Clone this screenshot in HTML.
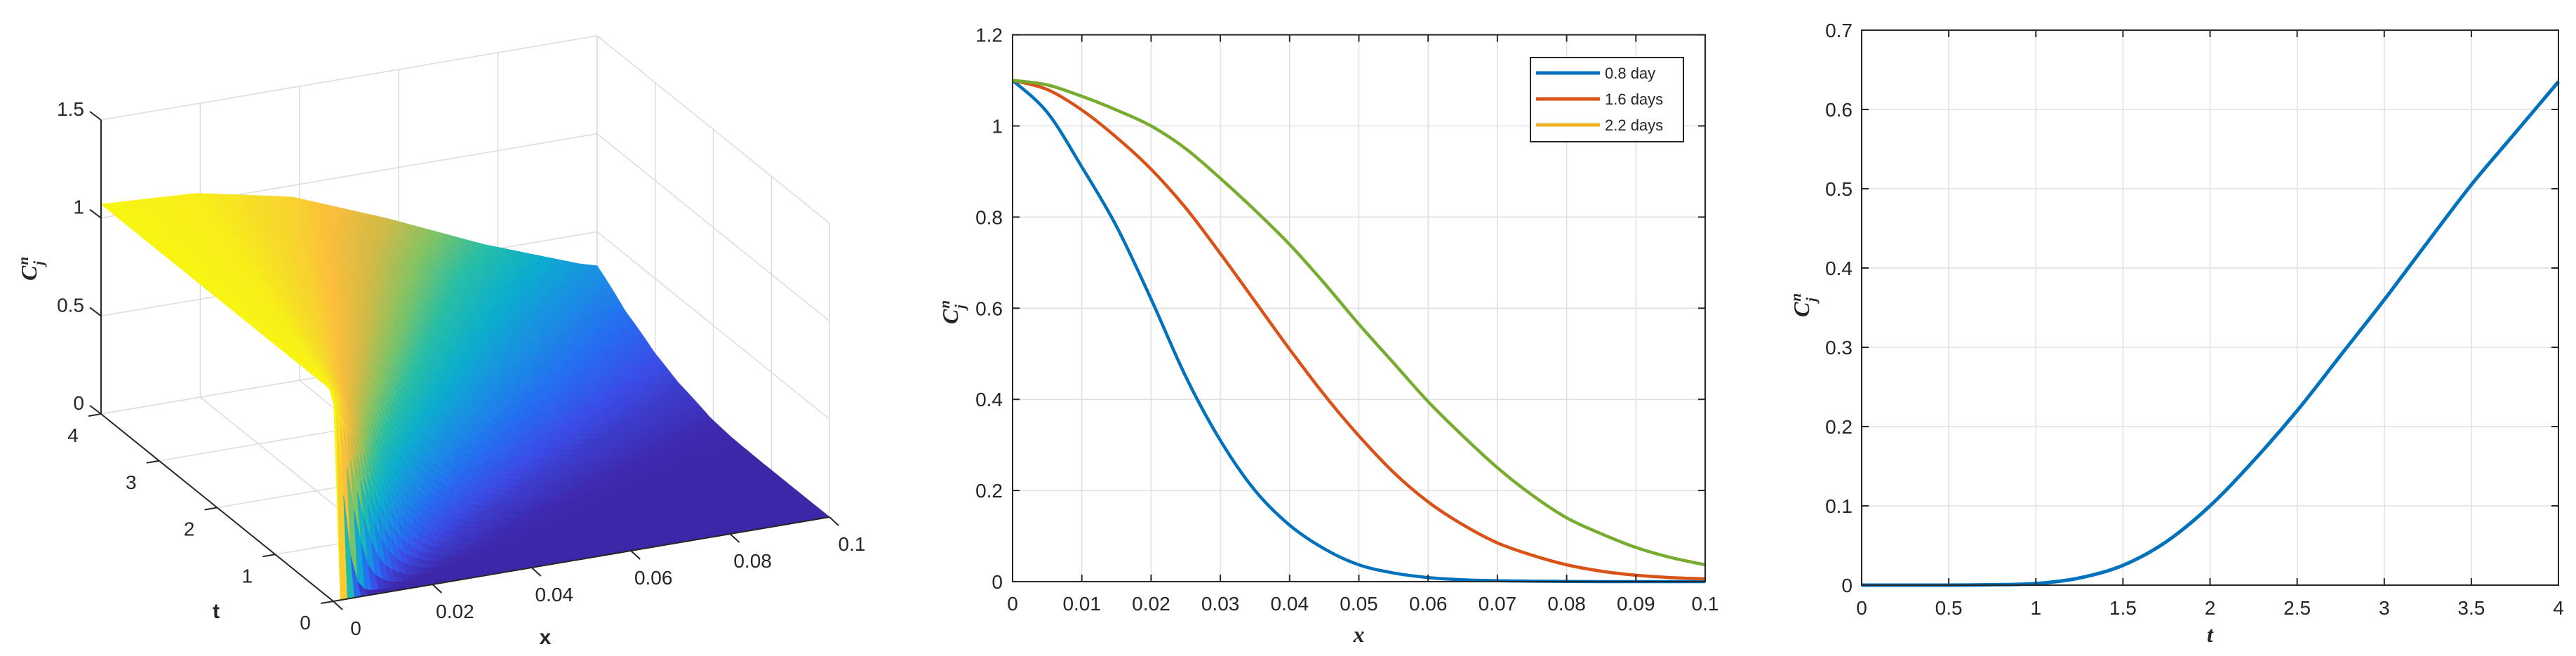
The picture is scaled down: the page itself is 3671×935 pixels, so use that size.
<!DOCTYPE html>
<html><head><meta charset="utf-8"><style>
html,body{margin:0;padding:0;background:#fff;}
svg{display:block;}
text{font-family:"Liberation Sans",sans-serif;fill:#262626;}
.tk{font-size:28px;}
.lab{font-family:"Liberation Serif",serif;font-style:italic;font-weight:bold;}
</style></head><body>
<svg id="fig" width="3671" height="935" viewBox="0 0 3671 935" xmlns="http://www.w3.org/2000/svg">
<g id="p3d"></g>
<g id="pmid"></g>
<g id="pright"></g>
</svg>
<script>
// ---------- data: middle plot (C vs x) ----------
const xProfile = [0,0.005,0.01,0.015,0.02,0.025,0.03,0.035,0.04,0.045,0.05,0.055,0.06,0.065,0.07,0.075,0.08,0.085,0.09,0.095,0.1];
const series08 = [1.1,1.03,0.91,0.78,0.62,0.45,0.31,0.20,0.124,0.072,0.037,0.019,0.009,0.004,0.002,0.001,0.0005,0,0,0,0];
const series16 = [1.1,1.08,1.035,0.975,0.905,0.82,0.72,0.615,0.51,0.41,0.32,0.24,0.175,0.125,0.085,0.058,0.037,0.023,0.014,0.009,0.006];
const series22 = [1.1,1.09,1.065,1.035,1.0,0.95,0.885,0.815,0.74,0.655,0.565,0.48,0.395,0.32,0.25,0.19,0.14,0.105,0.075,0.053,0.037];
const legendLabels = ["0.8 day","1.6 days","2.2 days"];
const midXTicks = [0,0.01,0.02,0.03,0.04,0.05,0.06,0.07,0.08,0.09,0.1];
const midXTickLabels = ["0","0.01","0.02","0.03","0.04","0.05","0.06","0.07","0.08","0.09","0.1"];
const midYTicks = [0,0.2,0.4,0.6,0.8,1,1.2];
const midYTickLabels = ["0","0.2","0.4","0.6","0.8","1","1.2"];
// ---------- data: right plot (C vs t) ----------
const tSeries = [0,0.25,0.5,0.75,1,1.25,1.5,1.75,2,2.25,2.5,2.75,3,3.25,3.5,3.75,4];
const cSeries = [0,0,0,0.0005,0.002,0.009,0.025,0.055,0.1,0.157,0.22,0.29,0.36,0.433,0.505,0.57,0.635];
const rXTicks = [0,0.5,1,1.5,2,2.5,3,3.5,4];
const rXTickLabels = ["0","0.5","1","1.5","2","2.5","3","3.5","4"];
const rYTicks = [0,0.1,0.2,0.3,0.4,0.5,0.6,0.7];
const rYTickLabels = ["0","0.1","0.2","0.3","0.4","0.5","0.6","0.7"];
// ---------- data: surface ----------
const surfT = [0,0.1,0.25,0.5,1,1.5,2,2.5,3,3.5,4];
const surfHalfWidth = [0.0003,0.004,0.008,0.013,0.021,0.03,0.039,0.048,0.057,0.066,0.077];
const profileR = [0,0.25,0.5,0.75,1,1.25,1.5,1.75,2,2.5,3,4];
const profileV = [1,0.975,0.88,0.7,0.5,0.33,0.2,0.11,0.06,0.015,0.003,0];
const surfAmp = 1.07;
const s3zTicks=[0,0.5,1,1.5], s3zLabels=["0","0.5","1","1.5"];
const s3tTicks=[0,1,2,3,4], s3tLabels=["0","1","2","3","4"];
const s3xTicks=[0,0.02,0.04,0.06,0.08,0.1], s3xLabels=["0","0.02","0.04","0.06","0.08","0.1"];

const NS="http://www.w3.org/2000/svg";
function mk(parent,tag,attrs,txt){const e=document.createElementNS(NS,tag);for(const k in attrs)e.setAttribute(k,attrs[k]);if(txt!==undefined)e.textContent=txt;parent.appendChild(e);return e;}
function interp(xs,ys,x){if(x<=xs[0])return ys[0];for(let i=1;i<xs.length;i++){if(x<=xs[i]){const f=(x-xs[i-1])/(xs[i]-xs[i-1]);return ys[i-1]+f*(ys[i]-ys[i-1]);}}return ys[ys.length-1];}
function smoothPath(pts){
  let d='M'+pts[0][0].toFixed(1)+','+pts[0][1].toFixed(1);
  for(let i=0;i<pts.length-1;i++){
    const p0=pts[Math.max(0,i-1)],p1=pts[i],p2=pts[i+1],p3=pts[Math.min(pts.length-1,i+2)];
    const c1=[p1[0]+(p2[0]-p0[0])/6,p1[1]+(p2[1]-p0[1])/6];
    const c2=[p2[0]-(p3[0]-p1[0])/6,p2[1]-(p3[1]-p1[1])/6];
    d+=` C${c1[0].toFixed(1)},${c1[1].toFixed(1)} ${c2[0].toFixed(1)},${c2[1].toFixed(1)} ${p2[0].toFixed(1)},${p2[1].toFixed(1)}`;
  }
  return d;
}
function ylabel(g,x,y){
  const t=mk(g,'text',{x:x,y:y,transform:`rotate(-90 ${x} ${y})`,'class':'lab','font-size':'32'});
  
  
  t.appendChild(document.createTextNode('C'));
  mk(t,'tspan',{'font-size':'21',dx:'1',dy:'-12'},'n');
  mk(t,'tspan',{'font-size':'21',dx:'-12',dy:'22'},'j');
}

// ================= middle plot =================
(function(){
  const g=document.getElementById('pmid');
  const L=1443,R=2430,T=49.6,B=829;
  const X=v=>L+v/0.1*(R-L), Y=v=>B-v/1.2*(B-T);
  midXTicks.forEach((v,i)=>{
    const gl=mk(g,'line',{x1:X(v),x2:X(v),y1:T,y2:B,stroke:'#dfdfdf','stroke-width':1.5});
    
    
  });
  midYTicks.forEach(v=>{
    const gl=mk(g,'line',{x1:L,x2:R,y1:Y(v),y2:Y(v),stroke:'#dfdfdf','stroke-width':1.5});
    
    
  });
  const colors=['#0072BD','#D95319','#77AC30'];
  [series08,series16,series22].forEach((s,k)=>{
    const d=smoothPath(s.map((v,i)=>[X(xProfile[i]),Y(v)]));
    const p=mk(g,'path',{d:d,fill:'none',stroke:colors[k],'stroke-width':4.5,'stroke-linejoin':'round'});
    
    
  });
  mk(g,'rect',{x:L,y:T,width:R-L,height:B-T,fill:'none',stroke:'#262626','stroke-width':2});
  midXTicks.forEach((v,i)=>{
    mk(g,'line',{x1:X(v),x2:X(v),y1:B,y2:B-10,stroke:'#262626','stroke-width':2});
    mk(g,'line',{x1:X(v),x2:X(v),y1:T,y2:T+10,stroke:'#262626','stroke-width':2});
    const t=mk(g,'text',{x:X(v),y:870,'text-anchor':'middle','class':'tk'},midXTickLabels[i]);
    
    
  });
  midYTicks.forEach((v,i)=>{
    mk(g,'line',{x1:L,x2:L+10,y1:Y(v),y2:Y(v),stroke:'#262626','stroke-width':2});
    mk(g,'line',{x1:R,x2:R-10,y1:Y(v),y2:Y(v),stroke:'#262626','stroke-width':2});
    const t=mk(g,'text',{x:1429,y:Y(v)+10,'text-anchor':'end','class':'tk'},midYTickLabels[i]);
    
    
  });
  const xt=mk(g,'text',{x:(L+R)/2,y:915,'text-anchor':'middle','class':'lab','font-size':'32'},'x');
  
  
  ylabel(g,1365,462);
  const lg=mk(g,'g',{});
  
  
  mk(lg,'rect',{x:2181,y:82,width:218,height:120,fill:'#fff',stroke:'#262626','stroke-width':2});
  const lc=['#0072BD','#D95319','#EDB120'];
  legendLabels.forEach((s,i)=>{
    const e=mk(lg,'g',{});
    
    
    mk(e,'line',{x1:2189,x2:2280,y1:104+37*i,y2:104+37*i,stroke:lc[i],'stroke-width':5});
    mk(e,'text',{x:2287,y:112+37*i,'font-size':'22'},s);
  });
})();

// ================= right plot =================
(function(){
  const g=document.getElementById('pright');
  const L=2653,R=3646,T=43,B=834;
  const X=v=>L+v/4*(R-L), Y=v=>B-v/0.7*(B-T);
  rXTicks.forEach(v=>{const gl=mk(g,'line',{x1:X(v),x2:X(v),y1:T,y2:B,stroke:'#dfdfdf','stroke-width':1.5});
    
    });
  rYTicks.forEach(v=>{const gl=mk(g,'line',{x1:L,x2:R,y1:Y(v),y2:Y(v),stroke:'#dfdfdf','stroke-width':1.5});
    
    });
  const d=smoothPath(cSeries.map((v,i)=>[X(tSeries[i]),Y(v)]));
  const p=mk(g,'path',{d:d,fill:'none',stroke:'#0072BD','stroke-width':5,'stroke-linejoin':'round'});
  
  
  mk(g,'rect',{x:L,y:T,width:R-L,height:B-T,fill:'none',stroke:'#262626','stroke-width':2});
  rXTicks.forEach((v,i)=>{
    mk(g,'line',{x1:X(v),x2:X(v),y1:B,y2:B-10,stroke:'#262626','stroke-width':2});
    mk(g,'line',{x1:X(v),x2:X(v),y1:T,y2:T+10,stroke:'#262626','stroke-width':2});
    const t=mk(g,'text',{x:X(v),y:876,'text-anchor':'middle','class':'tk'},rXTickLabels[i]);
    
    
  });
  rYTicks.forEach((v,i)=>{
    mk(g,'line',{x1:L,x2:L+10,y1:Y(v),y2:Y(v),stroke:'#262626','stroke-width':2});
    mk(g,'line',{x1:R,x2:R-10,y1:Y(v),y2:Y(v),stroke:'#262626','stroke-width':2});
    const t=mk(g,'text',{x:2640,y:Y(v)+10,'text-anchor':'end','class':'tk'},rYTickLabels[i]);
    
    
  });
  const xt=mk(g,'text',{x:(L+R)/2,y:915,'text-anchor':'middle','class':'lab','font-size':'32'},'t');
  
  
  ylabel(g,2578,452);
})();

// ================= 3D surface =================
(function(){
  const g=document.getElementById('p3d');
  const O=[475,857], VX=[707,-120], VT=[-331,-267], VZ=[0,-419];
  const P=(x,t,z)=>[O[0]+x/0.1*VX[0]+t/4*VT[0]+z/1.5*VZ[0], O[1]+x/0.1*VX[1]+t/4*VT[1]+z/1.5*VZ[1]];
  const ln=(a,b,st,w,name)=>{const e=mk(g,'line',{x1:a[0],y1:a[1],x2:b[0],y2:b[1],stroke:st,'stroke-width':w});
    
    return e;};
  const GC='#dcdcdc';
  s3xTicks.forEach(v=>ln(P(v,4,0),P(v,4,1.5),GC,1.5,'grid-line'));
  s3zTicks.forEach(v=>ln(P(0,4,v),P(0.1,4,v),GC,1.5,'grid-line'));
  s3tTicks.forEach(v=>ln(P(0.1,v,0),P(0.1,v,1.5),GC,1.5,'grid-line'));
  s3zTicks.forEach(v=>ln(P(0.1,0,v),P(0.1,4,v),GC,1.5,'grid-line'));
  s3xTicks.forEach(v=>ln(P(v,0,0),P(v,4,0),GC,1.5,'grid-line'));
  s3tTicks.forEach(v=>ln(P(0,v,0),P(0.1,v,0),GC,1.5,'grid-line'));
  const pst=[[0,62,38,168],[0.1,59,76,230],[0.2,36,112,240],[0.3,25,145,225],[0.4,12,174,205],[0.5,40,190,165],[0.6,130,195,100],[0.7,210,186,70],[0.8,252,190,60],[0.9,246,220,40],[1,249,251,14]];
  const col=f=>{f=Math.max(0,Math.min(1,f));for(let i=1;i<pst.length;i++){if(f<=pst[i][0]){const a=pst[i-1],b=pst[i],u=(f-a[0])/(b[0]-a[0]);return `rgb(${Math.round(a[1]+u*(b[1]-a[1]))},${Math.round(a[2]+u*(b[2]-a[2]))},${Math.round(a[3]+u*(b[3]-a[3]))})`;}}return 'rgb(249,251,14)';};
  const Zf=(x,t)=>{const h=interp(surfT,surfHalfWidth,t);return surfAmp*interp(profileR,profileV,x/h);};
  const NX=70,NT=60;
  const xs=[],ts=[];
  for(let i=0;i<=NX;i++)xs.push(0.1*i/NX);
  for(let j=0;j<=NT;j++)ts.push(4*j/NT);
  const sg=mk(g,'g',{});
  
  
  let html='';
  for(let j=NT-1;j>=0;j--){
    for(let i=0;i<NX;i++){
      const x0=xs[i],x1=xs[i+1],t0=ts[j],t1=ts[j+1];
      const z00=Zf(x0,t0),z10=Zf(x1,t0),z11=Zf(x1,t1),z01=Zf(x0,t1);
      const pts=[P(x0,t0,z00),P(x1,t0,z10),P(x1,t1,z11),P(x0,t1,z01)];
      const c=col(Math.max(z00,z10,z11,z01)/surfAmp*0.98);
      html+=`<polygon points="${pts.map(p=>p[0].toFixed(1)+','+p[1].toFixed(1)).join(' ')}" fill="${c}" stroke="${c}" stroke-width="0.8"/>`;
    }
  }
  sg.innerHTML=html;
  ln(P(0,4,0),P(0,4,1.5),'#262626',2,'z-axis');
  ln(P(0,0,0),P(0,4,0),'#262626',2,'t-axis');
  ln(P(0,0,0),P(0.1,0,0),'#262626',2,'x-axis');
  s3zTicks.forEach((v,i)=>{const a=P(0,4,v);ln(a,[a[0]-16,a[1]-12],'#262626',2,'z-tick');
    const t=mk(g,'text',{x:a[0]-24,y:a[1]-6,'text-anchor':'end','class':'tk'},s3zLabels[i]);
    
    });
  s3tTicks.forEach((v,i)=>{const a=P(0,v,0);ln(a,[a[0]-18,a[1]+3],'#262626',2,'t-tick');
    const t=mk(g,'text',{x:a[0]-40,y:a[1]+40,'text-anchor':'middle','class':'tk'},s3tLabels[i]);
    
    });
  s3xTicks.forEach((v,i)=>{const a=P(v,0,0);ln(a,[a[0]+13,a[1]+12],'#262626',2,'x-tick');
    const t=mk(g,'text',{x:a[0]+32,y:a[1]+48,'text-anchor':'middle','class':'tk'},s3xLabels[i]);
    
    });
  const xt=mk(g,'text',{x:777,y:918,'text-anchor':'middle','font-family':'Liberation Serif','font-weight':'bold','font-size':'30'},'x');
  
  
  const tt=mk(g,'text',{x:308,y:881,'text-anchor':'middle','font-family':'Liberation Serif','font-weight':'bold','font-size':'30'},'t');
  
  
  ylabel(g,52,400);
})();
</script>
</body></html>
